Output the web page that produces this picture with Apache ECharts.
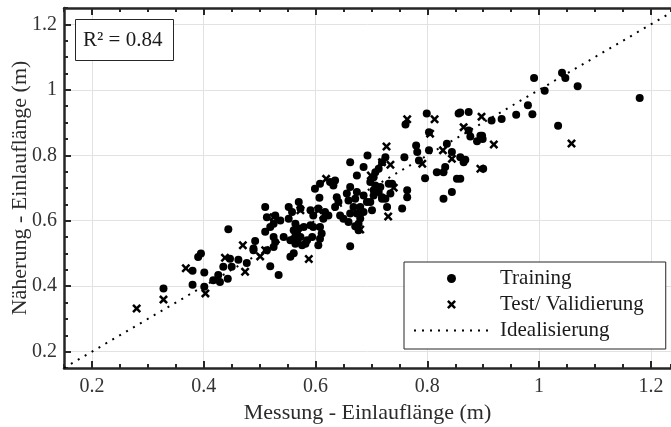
<!DOCTYPE html>
<html>
<head>
<meta charset="utf-8">
<script src="https://cdn.jsdelivr.net/npm/echarts@6/dist/echarts.min.js"></script>
<style>
  html, body { margin: 0; padding: 0; background: #fff; }
  #chart { width: 671px; height: 427px; }
</style>
</head>
<body>
<div id="chart"></div>
<script>
// Measured vs. approximated run-in length (m)
const trainingPoints = [
  [0.328,0.393],[0.380,0.447],[0.380,0.404],[0.401,0.442],[0.401,0.398],[0.390,0.489],
  [0.395,0.500],[0.417,0.418],[0.426,0.434],[0.429,0.413],[0.443,0.423],[0.435,0.459],
  [0.447,0.484],[0.450,0.459],[0.462,0.481],[0.477,0.471],[0.489,0.510],[0.444,0.574],
  [0.492,0.538],[0.489,0.515],
  [0.510,0.642],[0.513,0.611],[0.528,0.616],[0.525,0.591],[0.519,0.581],[0.510,0.566],
  [0.537,0.601],[0.552,0.642],[0.552,0.606],[0.558,0.627],[0.570,0.657],[0.573,0.637],
  [0.525,0.550],[0.543,0.550],[0.561,0.571],[0.561,0.545],[0.564,0.530],[0.576,0.525],
  [0.579,0.581],[0.573,0.550],[0.594,0.550],[0.591,0.632],[0.596,0.616],[0.596,0.581],
  [0.513,0.510],[0.525,0.520],[0.519,0.461],[0.534,0.434],[0.555,0.490],[0.561,0.501],
  [0.528,0.535],[0.555,0.540],[0.567,0.561],[0.585,0.540],[0.582,0.530],[0.570,0.576],
  [0.591,0.586],[0.564,0.591],
  [0.611,0.561],[0.608,0.545],[0.605,0.525],[0.605,0.637],[0.617,0.627],[0.623,0.616],
  [0.614,0.606],[0.608,0.581],[0.599,0.698],[0.608,0.713],[0.626,0.718],[0.635,0.723],
  [0.632,0.708],[0.607,0.670],[0.638,0.672],[0.641,0.657],[0.635,0.642],[0.644,0.616],
  [0.650,0.606],[0.659,0.596],[0.662,0.622],[0.677,0.591],[0.677,0.571],[0.671,0.583],
  [0.674,0.622],[0.656,0.683],[0.674,0.688],[0.686,0.677],[0.659,0.662],[0.680,0.642],
  [0.692,0.657],[0.662,0.779],[0.693,0.799],[0.686,0.764],[0.674,0.738],[0.662,0.703],
  [0.662,0.522],[0.668,0.642],[0.686,0.627],[0.680,0.607],[0.671,0.667],
  [0.701,0.632],[0.698,0.657],[0.719,0.667],[0.725,0.794],[0.719,0.779],[0.713,0.759],
  [0.707,0.748],[0.704,0.733],[0.698,0.718],[0.707,0.708],[0.704,0.693],[0.713,0.688],
  [0.719,0.672],[0.725,0.667],[0.734,0.683],[0.731,0.713],[0.737,0.713],[0.716,0.703],
  [0.704,0.677],[0.764,0.693],[0.764,0.672],[0.755,0.637],[0.728,0.642],[0.759,0.794],
  [0.780,0.830],[0.782,0.810],[0.785,0.784],[0.796,0.730],[0.761,0.894],[0.799,0.928],
  [0.803,0.870],
  [0.803,0.815],[0.817,0.748],[0.829,0.748],[0.832,0.764],[0.835,0.835],[0.844,0.810],
  [0.853,0.728],[0.829,0.667],[0.844,0.688],[0.856,0.928],[0.859,0.931],[0.874,0.932],
  [0.874,0.876],[0.877,0.857],[0.895,0.860],[0.899,0.850],[0.889,0.843],[0.859,0.794],
  [0.868,0.786],[0.865,0.779],[0.859,0.728],[0.900,0.759],[0.898,0.860],[0.915,0.906],
  [0.933,0.911],[0.959,0.924],[0.980,0.953],[0.988,0.925],[0.991,1.036],[1.010,0.997],
  [1.041,1.052],[1.047,1.036],[1.069,1.011],[1.180,0.975],[1.034,0.890]
];

const testPoints = [
  [0.280,0.332],[0.328,0.359],[0.368,0.455],[0.403,0.378],[0.438,0.487],[0.474,0.444],
  [0.470,0.525],[0.501,0.491],[0.510,0.510],[0.525,0.611],[0.573,0.632],[0.567,0.545],
  [0.588,0.483],[0.605,0.632],[0.619,0.728],[0.680,0.573],[0.699,0.738],[0.719,0.779],
  [0.734,0.771],[0.740,0.701],[0.730,0.613],[0.727,0.827],[0.764,0.910],[0.791,0.774],
  [0.805,0.866],[0.813,0.910],[0.828,0.815],[0.844,0.789],[0.865,0.886],[0.897,0.918],
  [0.895,0.759],[0.919,0.833],[1.058,0.836]
];

// Ideal 1:1 line
const idealLine = [[0.15, 0.15], [1.25, 1.25]];

const majorTicks = [0.2, 0.4, 0.6, 0.8, 1.0, 1.2];
const xRange = [0.15, 1.236];
const yRange = [0.15, 1.25];
const rSquared = 0.84;

const seriesNames = ['Training', 'Test/ Validierung', 'Idealisierung'];
const axisNames = ['Messung - Einlauflänge (m)', 'Näherung - Einlauflänge (m)'];

const FONT = '"Liberation Serif", "DejaVu Serif", serif';
const AXIS_COLOR = '#262626';
const crossSymbol = 'path://M2,0 L5,3 L8,0 L10,2 L7,5 L10,8 L8,10 L5,7 L2,10 L0,8 L3,5 L0,2 Z';

const fmt = v => String(Math.round(v * 10) / 10);

function mainAxis(range, position, withLabels, name) {
  return {
    type: 'value', min: range[0], max: range[1], position: position,
    axisLine: { show: true, onZero: false, lineStyle: { color: AXIS_COLOR, width: 2.5 } },
    axisTick: { show: true, inside: true, length: 7, customValues: majorTicks,
      lineStyle: { color: AXIS_COLOR, width: 2 } },
    axisLabel: withLabels ? { show: true, customValues: majorTicks, formatter: fmt,
      fontFamily: FONT, fontSize: 20, color: '#333', margin: 9 } : { show: false },
    splitLine: { show: withLabels, lineStyle: { color: '#e2e2e2', width: 1 } },
    name: name || '', nameLocation: 'middle', nameMoveOverlap: false,
    nameTextStyle: { fontFamily: FONT, fontSize: 22, color: '#2b2b2b' }
  };
}

function minorAxis(range, position) {
  return {
    type: 'value', min: range[0], max: range[1], interval: 0.05, position: position,
    axisLine: { show: false, onZero: false },
    axisTick: { show: true, inside: true, length: 4, lineStyle: { color: AXIS_COLOR, width: 2 } },
    axisLabel: { show: false },
    splitLine: { show: false }
  };
}

const xMain = mainAxis(xRange, 'bottom', true, axisNames[0]);
xMain.nameGap = 34;
const yMain = mainAxis(yRange, 'left', true, axisNames[1]);
yMain.nameGap = 33;
yMain.axisLabel.margin = 7;

const chart = echarts.init(document.getElementById('chart'), null, { renderer: 'canvas' });
chart.setOption({
  backgroundColor: '#fff',
  animation: false,
  grid: { left: 64, right: 0, top: 8, bottom: 59, containLabel: false, outerBoundsMode: 'none' },
  title: {
    text: 'R² = ' + rSquared.toFixed(2),
    left: 75, top: 19,
    padding: [11, 11, 10, 8],
    backgroundColor: '#fff', borderColor: AXIS_COLOR, borderWidth: 1,
    textStyle: { fontFamily: FONT, fontSize: 21, fontWeight: 'normal', color: '#1a1a1a' }
  },
  legend: {
    left: 404, top: 262, orient: 'vertical', align: 'left',
    backgroundColor: '#fff', borderColor: AXIS_COLOR, borderWidth: 1, borderRadius: 0,
    padding: [6, 22, 8, 9], itemGap: 5, itemWidth: 75, itemHeight: 9,
    textStyle: { fontFamily: FONT, fontSize: 21, color: '#1a1a1a', padding: [0, 0, 0, 6] },
    data: [
      { name: seriesNames[0] },
      { name: seriesNames[1] },
      { name: seriesNames[2], itemStyle: { opacity: 0 } }
    ]
  },
  xAxis: [xMain, minorAxis(xRange, 'bottom'), mainAxis(xRange, 'top', false), minorAxis(xRange, 'top')],
  yAxis: [yMain, minorAxis(yRange, 'left')],
  series: [
    {
      name: seriesNames[2], type: 'line', data: idealLine, xAxisIndex: 0, yAxisIndex: 0,
      symbol: 'none', silent: true, clip: true,
      lineStyle: { color: '#000', width: 2, type: [2, 6] },
      itemStyle: { color: '#000' }, z: 2
    },
    {
      name: seriesNames[0], type: 'scatter', data: trainingPoints, xAxisIndex: 0, yAxisIndex: 0,
      symbol: 'circle', symbolSize: 8, itemStyle: { color: '#000', opacity: 1 }, z: 3
    },
    {
      name: seriesNames[1], type: 'scatter', data: testPoints, xAxisIndex: 0, yAxisIndex: 0,
      symbol: crossSymbol, symbolSize: 9, itemStyle: { color: '#000', opacity: 1 }, z: 4
    }
  ]
});
</script>
</body>
</html>
